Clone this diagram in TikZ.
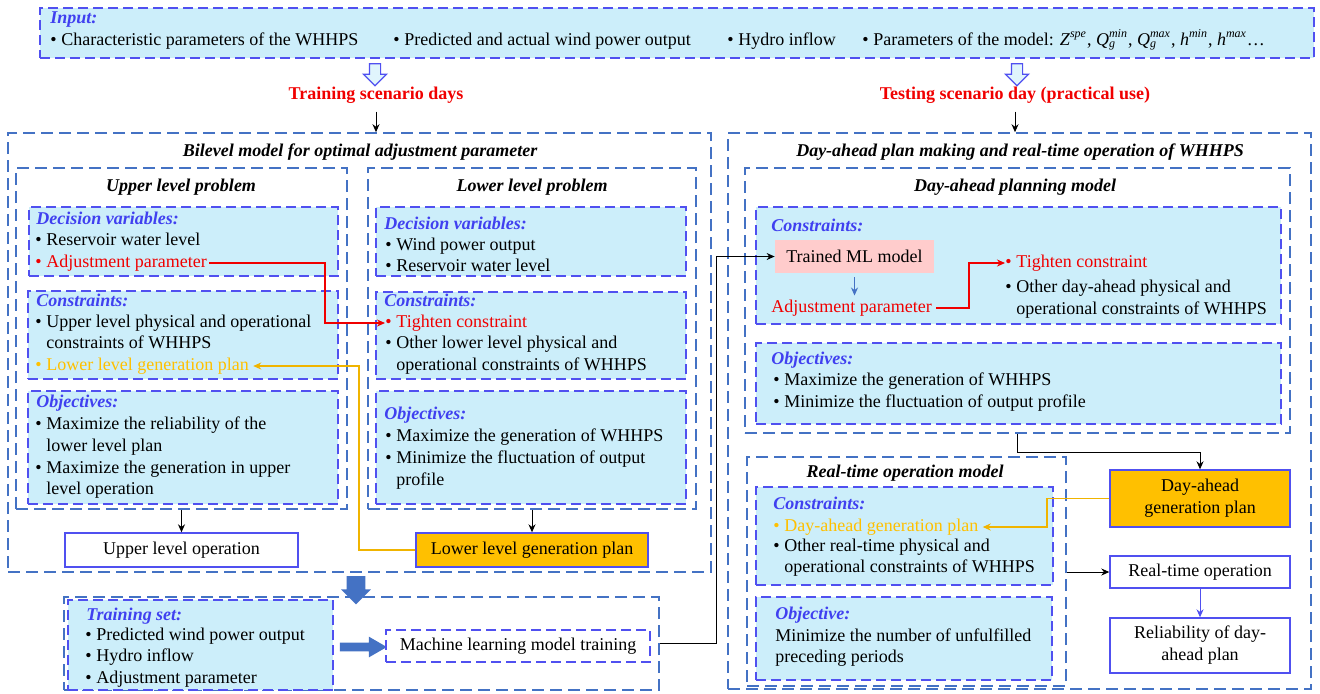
\documentclass[tikz,border=0pt]{standalone}
\usepackage{fontspec}
\setmainfont{Liberation Serif}
\usetikzlibrary{fit,shapes.arrows,arrows.meta}

\definecolor{cyanfill}{RGB}{204,238,250}
\definecolor{boxblue}{RGB}{80,80,240}
\definecolor{steel}{RGB}{68,114,196}
\definecolor{titleblue}{RGB}{64,64,240}
\definecolor{gold}{RGB}{255,192,0}
\definecolor{goldline}{RGB}{240,180,0}
\definecolor{pinkfill}{RGB}{255,204,204}
\definecolor{redtxt}{RGB}{240,0,0}

\newcommand\fs{\fontsize{9pt}{11pt}\selectfont}
\newcommand\bl{\makebox[5.5pt][l]{\textbullet}}
\newcommand\ind{\hspace*{5.5pt}}
% symbol with sub- and superscript stacked
\newcommand\msym[3]{\textit{#1}\makebox[0pt][l]{\textsubscript{\textit{#3}}}\textsuperscript{\textit{#2}}}

\tikzset{
  outerbox/.style={draw=steel, line width=0.8pt, dash pattern=on 6pt off 3pt, inner sep=0},
  infobox/.style={draw=boxblue, fill=cyanfill, line width=0.8pt, dash pattern=on 5pt off 2.5pt, inner sep=0},
  plainbox/.style={draw=boxblue, fill=white, line width=0.7pt, inner sep=0, align=center},
  txt/.style={inner sep=0, anchor=west, text height=6.2pt, text depth=1.9pt},
  head/.style={txt, font=\bfseries\itshape, text=titleblue},
  ttl/.style={inner sep=0, text height=6.2pt, text depth=1.9pt, font=\bfseries\itshape},
  scen/.style={inner sep=1pt, font=\bfseries, text=redtxt},
  arr/.style={-{Stealth[length=4pt,width=3.5pt]}, line width=0.5pt},
  link/.style={arr, line width=0.9pt},
  hollow/.style={single arrow, shape border rotate=270, draw=boxblue, fill=cyanfill!60,
    line width=0.6pt, inner sep=2.5pt, minimum height=11pt, single arrow head extend=3pt},
  blockarrow/.style={single arrow, fill=steel}
}

\begin{document}
\fs
\begin{tikzpicture}[x=0.5pt, y=-0.5pt]
\useasboundingbox (0,0) rectangle (1320,693);

    % Input bar
    \node[infobox, fit={(40,8) (1314,58)}] (inp) {};
    \node[head] (inph) at (50,19) {Input:};
    \foreach \x/\t [count=\i] in {50/{Characteristic parameters of the WHHPS}, 393/{Predicted and actual wind power output},
        727/{Hydro inflow}, 862/{Parameters of the model: \textit{Z}\textsuperscript{\textit{spe}}, \msym{Q}{min}{g}, \msym{Q}{max}{g},
        \textit{h}\textsuperscript{\textit{min}}, \textit{h}\textsuperscript{\textit{max}}\ldots}} {
        \node[txt] (in\i) at (\x,41) {\bl\t};
    }

    % Split into training and testing
    \node[hollow] (ha1) at (375,72) {};
    \node[hollow] (ha2) at (1017,72) {};
    \node[scen] (trn) at (376,95) {Training scenario days};
    \node[scen] (tst) at (1015,95) {Testing scenario day (practical use)};

    % Bilevel model (left)
    \node[outerbox, fit={(8,133) (711,572)}] (bil) {};
    \node[ttl] (bilt) at (360,152) {Bilevel model for optimal adjustment parameter};
    \node[outerbox, fit={(16,168) (347,509)}] (ulp) {};
    \node[ttl] (ulpt) at (181,187) {Upper level problem};
    \node[outerbox, fit={(368,168) (696,509)}] (llp) {};
    \node[ttl] (llpt) at (532,187) {Lower level problem};

    % Upper level problem
    \node[infobox, fit={(29,207) (338,276)}] (udv) {};
    \node[head] (udvh) at (36,220) {Decision variables:};
    \node[txt] (ud1) at (35,241) {\bl Reservoir water level};
    \node[txt, text=redtxt] (ud2) at (35,263) {\bl Adjustment parameter};
    \node[infobox, fit={(28,291) (338,379)}] (ucs) {};
    \node[head] (ucsh) at (36,302) {Constraints:};
    \node[txt] (uc1) at (35,323) {\bl Upper level physical and operational};
    \node[txt] (uc2) at (35,344) {\ind constraints of WHHPS};
    \node[txt, text=gold] (uc3) at (35,366) {\bl Lower level generation plan};
    \node[infobox, fit={(28,391) (338,504)}] (uob) {};
    \node[head] (uobh) at (36,403) {Objectives:};
    \foreach \y/\t [count=\i] in {425/\bl Maximize the reliability of the, 447/\ind lower level plan,
        469/\bl Maximize the generation in upper, 490/\ind level operation} {
        \node[txt] (uo\i) at (35,\y) {\t};
    }

    % Lower level problem
    \node[infobox, fit={(376,207) (686,276)}] (ldv) {};
    \node[head] (ldvh) at (384,225) {Decision variables:};
    \node[txt] (ld1) at (385,246) {\bl Wind power output};
    \node[txt] (ld2) at (385,267) {\bl Reservoir water level};
    \node[infobox, fit={(376,292) (686,379)}] (lcs) {};
    \node[head] (lcsh) at (384,302) {Constraints:};
    \node[txt, text=redtxt] (lc1) at (385,323) {\bl Tighten constraint};
    \node[txt] (lc2) at (385,344) {\bl Other lower level physical and};
    \node[txt] (lc3) at (385,366) {\ind operational constraints of WHHPS};
    \node[infobox, fit={(376,391) (686,504)}] (lob) {};
    \node[head] (lobh) at (384,415) {Objectives:};
    \foreach \y/\t [count=\i] in {437/\bl Maximize the generation of WHHPS,
        459/\bl Minimize the fluctuation of output, 481/\ind profile} {
        \node[txt] (lo\i) at (385,\y) {\t};
    }

    \node[plainbox, minimum width=116.5pt, minimum height=17pt] (ulo) at (181.5,550) {Upper level operation};
    \node[plainbox, fill=gold, minimum width=116pt, minimum height=17pt] (llgp) at (532,550) {Lower level generation plan};

    % Training of the ML model
    \node[blockarrow, shape border rotate=270, inner sep=4.5pt, minimum height=12.5pt,
        single arrow head extend=2.75pt] (ba1) at (356,585.5) {};
    \node[outerbox, fit={(64,597) (659,690)}] (trb) {};
    \node[infobox, fit={(68,600) (333,690)}] (tset) {};
    \node[head] (tseth) at (86,616) {Training set:};
    \foreach \y/\t [count=\i] in {636/Predicted wind power output, 657/Hydro inflow, 679/Adjustment parameter} {
        \node[txt] (ts\i) at (85,\y) {\bl \t};
    }
    \node[blockarrow, inner sep=2pt, minimum height=23.5pt, single arrow head extend=3pt,
        single arrow tip angle=60] (ba2) at (359.5,647) {};
    \node[plainbox, dash pattern=on 5pt off 2.5pt, minimum width=132pt, minimum height=16pt] (mlt) at (518,646)
        {Machine learning model training};

    % Day-ahead plan making and real-time operation (right)
    \node[outerbox, fit={(728,133) (1311,689)}] (dar) {};
    \node[ttl] (dart) at (1020,152) {Day-ahead plan making and real-time operation of WHHPS};
    \node[outerbox, fit={(745,168) (1290,433)}] (dapm) {};
    \node[ttl] (dapmt) at (1015,187) {Day-ahead planning model};
    \node[infobox, fit={(756,207) (1281,324)}] (dac) {};
    \node[head] (dach) at (771,227) {Constraints:};
    \node[inner sep=0, fill=pinkfill, minimum width=79.5pt, minimum height=16.5pt] (tml) at (854.5,256.5) {Trained ML model};
    \node[txt, text=redtxt] (adj) at (771,308) {Adjustment parameter};
    \node[txt, text=redtxt] (dc1) at (1005,263) {\bl Tighten constraint};
    \node[txt] (dc2) at (1005,288) {\bl Other day-ahead physical and};
    \node[txt] (dc3) at (1005,310) {\ind operational constraints of WHHPS};
    \node[infobox, fit={(756,343) (1281,424)}] (dao) {};
    \node[head] (daoh) at (771,360) {Objectives:};
    \node[txt] (do1) at (773,381) {\bl Maximize the generation of WHHPS};
    \node[txt] (do2) at (773,403) {\bl Minimize the fluctuation of output profile};

    \node[plainbox, fill=gold, minimum width=90pt, minimum height=28.5pt] (dagp) at (1200,498.5) {Day-ahead\\generation plan};

    \node[outerbox, fit={(747,457) (1066,686)}] (rtm) {};
    \node[ttl] (rtmt) at (905,473) {Real-time operation model};
    \node[infobox, fit={(756,487) (1053,585)}] (rcs) {};
    \node[head] (rcsh) at (773,505) {Constraints:};
    \node[txt, text=gold] (rc1) at (773,527) {\bl Day-ahead generation plan};
    \node[txt] (rc2) at (773,547) {\bl Other real-time physical and};
    \node[txt] (rc3) at (773,568) {\ind operational constraints of WHHPS};
    \node[infobox, fit={(756,597) (1052,680)}] (rob) {};
    \node[head] (robh) at (775,615) {Objective:};
    \node[txt] (ro1) at (775,637) {Minimize the number of unfulfilled};
    \node[txt] (ro2) at (775,658) {preceding periods};

    \node[plainbox, minimum width=90pt, minimum height=16pt] (rto) at (1200,572) {Real-time operation};
    \node[plainbox, minimum width=90pt, minimum height=27.5pt] (rel) at (1200,645.5) {Reliability of day-\\ahead plan};

    % Connectors
    \coordinate (rv) at (325,0);
    \coordinate (yv) at (359,0);
    \coordinate (bv) at (716,0);
    \coordinate (rv2) at (969,0);
    \coordinate (yv2) at (1047,0);

    \draw[arr, shorten <=3pt] (trn.south) -- (trn.south |- bil.north);
    \draw[arr, shorten <=3pt] (tst.south) -- (tst.south |- dar.north);
    \draw[link, redtxt, shorten <=1pt] (ud2.east) -- (ud2.east -| rv) |- (lc1.west);
    \draw[link, goldline, shorten >=2pt] (llgp.west) -- (llgp.west -| yv) |- (uc3.east);
    \draw[arr] (ulp.south -| ulo.north) -- (ulo.north);
    \draw[arr] (llp.south -| llgp.north) -- (llgp.north);
    \draw[arr] (trb.east) -- (trb.east -| bv) |- (tml.west);
    \draw[arr, steel, shorten <=2pt, shorten >=2pt] (tml.south) -- (tml.south |- adj.north);
    \draw[link, redtxt, shorten <=2pt] (adj.east) -- (adj.east -| rv2) |- (dc1.west);
    \draw[arr] (dapm.south) -- ++(0,19) -| (dagp.north);
    \draw[link, goldline, shorten >=2pt] (dagp.west) -- (dagp.west -| yv2) |- (rc1.east);
    \draw[arr] (rto.west -| rtm.east) -- (rto.west);
    \draw[arr, boxblue] (rto.south) -- (rel.north);

\end{tikzpicture}
\end{document}
